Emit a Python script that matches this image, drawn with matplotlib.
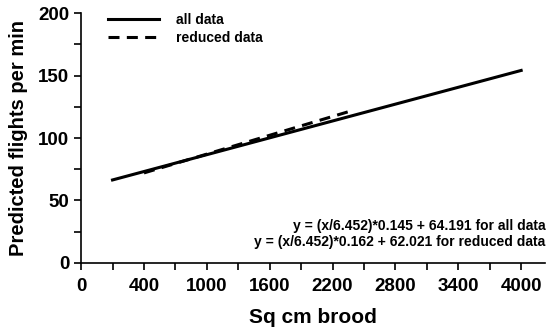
import numpy as np
from matplotlib import pyplot as plt

plt.rcParams['font.family'] = ['Liberation Sans', 'DejaVu Sans']
plt.rcParams['font.weight'] = 'bold'

# fitted lines: y = (x/6.452)*slope + intercept
slope_all, icpt_all = 0.145, 64.191
slope_red, icpt_red = 0.162, 62.021

x_all = np.array([100, 4000])
x_red = np.array([400, 2400])
y_all = (x_all / 6.452) * slope_all + icpt_all
y_red = (x_red / 6.452) * slope_red + icpt_red

xtick_pos = [-200, 400, 1000, 1600, 2200, 2800, 3400, 4000]
xtick_lab = ["0", "400", "1000", "1600", "2200", "2800", "3400", "4000"]
ytick_pos = [0, 50, 100, 150, 200]

fig = plt.figure(figsize=(5.48, 3.35), dpi=100)
ax = fig.add_axes([0.148, 0.215, 0.847, 0.746])

ax.plot(x_red, y_red, color='black', lw=2.2, dashes=(3.6, 2.4), zorder=2, label='reduced data')
ax.plot(x_all, y_all, color='black', lw=2.2, zorder=3, label='all data')

ax.set_xlim(-200, 4230)
ax.set_ylim(0, 200)
ax.set_xticks(xtick_pos)
ax.set_xticklabels(xtick_lab)
ax.set_xticks(np.arange(-200, 4001, 300), minor=True)
ax.set_yticks(ytick_pos)
ax.set_yticks(np.arange(0, 201, 25), minor=True)
ax.tick_params(which='both', direction='out', length=5, width=1.2, labelsize=13.5)
ax.tick_params(axis='x', pad=6)
for s in ['top', 'right']:
    ax.spines[s].set_visible(False)
for s in ['left', 'bottom']:
    ax.spines[s].set_linewidth(1.2)

ax.set_ylabel('Predicted flights per min', fontsize=14.5, fontweight='bold', labelpad=7)
ax.set_xlabel('Sq cm brood', fontsize=15, fontweight='bold', labelpad=9)

h, l = ax.get_legend_handles_labels()
ax.legend(h[::-1], l[::-1], loc='upper left', bbox_to_anchor=(0.03, 1.05), frameon=False,
          handlelength=3.7, handletextpad=1.2, labelspacing=0.25,
          prop={'weight': 'bold', 'size': 10})

ax.text(1.0, 0.148, 'y = (x/6.452)*0.145 + 64.191 for all data', transform=ax.transAxes,
        ha='right', va='center', fontsize=10, fontweight='bold')
ax.text(1.0, 0.084, 'y = (x/6.452)*0.162 + 62.021 for reduced data', transform=ax.transAxes,
        ha='right', va='center', fontsize=10, fontweight='bold')

fig.savefig('out.png', dpi=100)
